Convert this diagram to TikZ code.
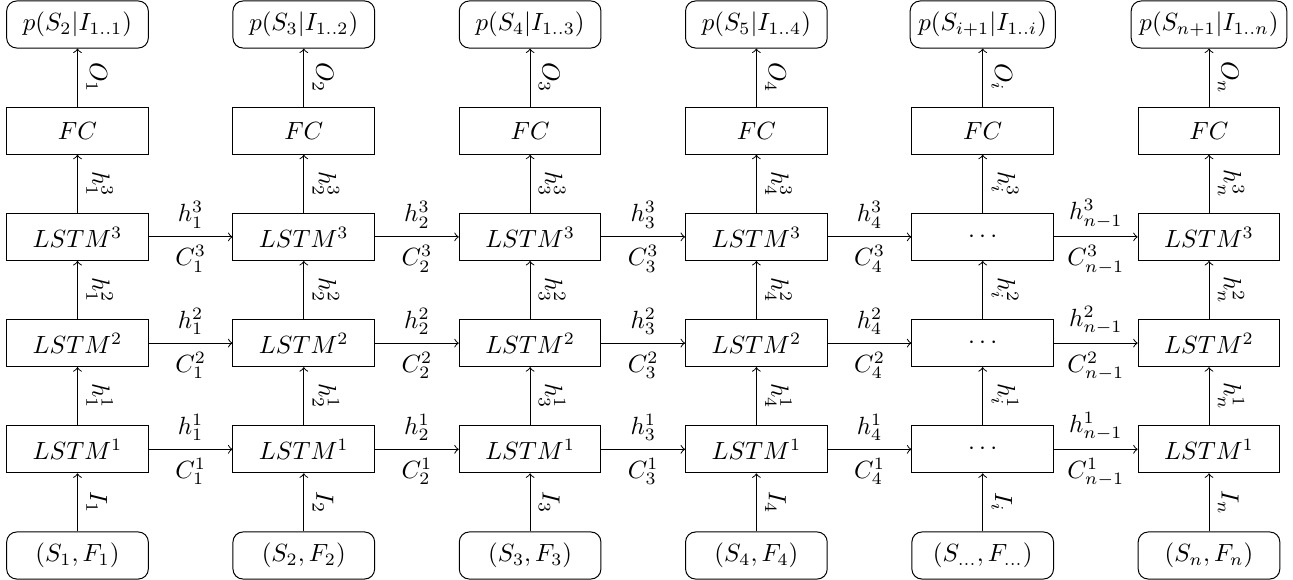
\documentclass[tikz,border=0pt]{standalone}
\begin{document}
\begin{tikzpicture}[x=0.4018pt,y=-0.4018pt,
  box/.style={draw, minimum width=56.9pt, minimum height=18.9pt, inner sep=3.33pt},
  rbox/.style={box, rounded corners=4pt},
  vlab/.style={sloped, above},
  conn/.style={->}]
\useasboundingbox (0,0) rectangle (1293,580);
\foreach \tp/\s/\bt [count=\k] in {
  {p(S_2|I_{1..1})}/1/{(S_1,F_1)},
  {p(S_3|I_{1..2})}/2/{(S_2,F_2)},
  {p(S_4|I_{1..3})}/3/{(S_3,F_3)},
  {p(S_5|I_{1..4})}/4/{(S_4,F_4)},
  {p(S_{i+1}|I_{1..i})}/i/{(S_{...},F_{...})},
  {p(S_{n+1}|I_{1..n})}/n/{(S_n,F_n)}}{
  \pgfmathsetmacro\xx{77.5+226.3*(\k-1)}
  \node[rbox] (t\k) at (\xx,24.5) {$\tp$};
  \node[box] (fc\k) at (\xx,130.7) {$FC$};
  \ifnum\k=5
    \node[box] (c\k) at (\xx,236.9) {$\cdots$};
    \node[box] (d\k) at (\xx,343.1) {$\cdots$};
    \node[box] (e\k) at (\xx,449.3) {$\cdots$};
  \else
    \node[box] (c\k) at (\xx,236.9) {$LSTM^3$};
    \node[box] (d\k) at (\xx,343.1) {$LSTM^2$};
    \node[box] (e\k) at (\xx,449.3) {$LSTM^1$};
  \fi
  \node[rbox] (b\k) at (\xx,555.5) {$\bt$};
  \draw[<-] (t\k) -- node[vlab] {$O_{\s}$} (fc\k);
  \draw[<-] (fc\k) -- node[vlab] {$h^3_{\s}$} (c\k);
  \draw[<-] (c\k) -- node[vlab] {$h^2_{\s}$} (d\k);
  \draw[<-] (d\k) -- node[vlab] {$h^1_{\s}$} (e\k);
  \draw[<-] (e\k) -- node[vlab] {$I_{\s}$} (b\k);
}
\foreach \k/\s in {1/1,2/2,3/3,4/4,5/{n-1}}{
  \pgfmathtruncatemacro\nk{\k+1}
  \draw[conn] (c\k) -- node[above] {$h^3_{\s}$} node[below] {$C^3_{\s}$} (c\nk);
  \draw[conn] (d\k) -- node[above] {$h^2_{\s}$} node[below] {$C^2_{\s}$} (d\nk);
  \draw[conn] (e\k) -- node[above] {$h^1_{\s}$} node[below] {$C^1_{\s}$} (e\nk);
}
\end{tikzpicture}
\end{document}
